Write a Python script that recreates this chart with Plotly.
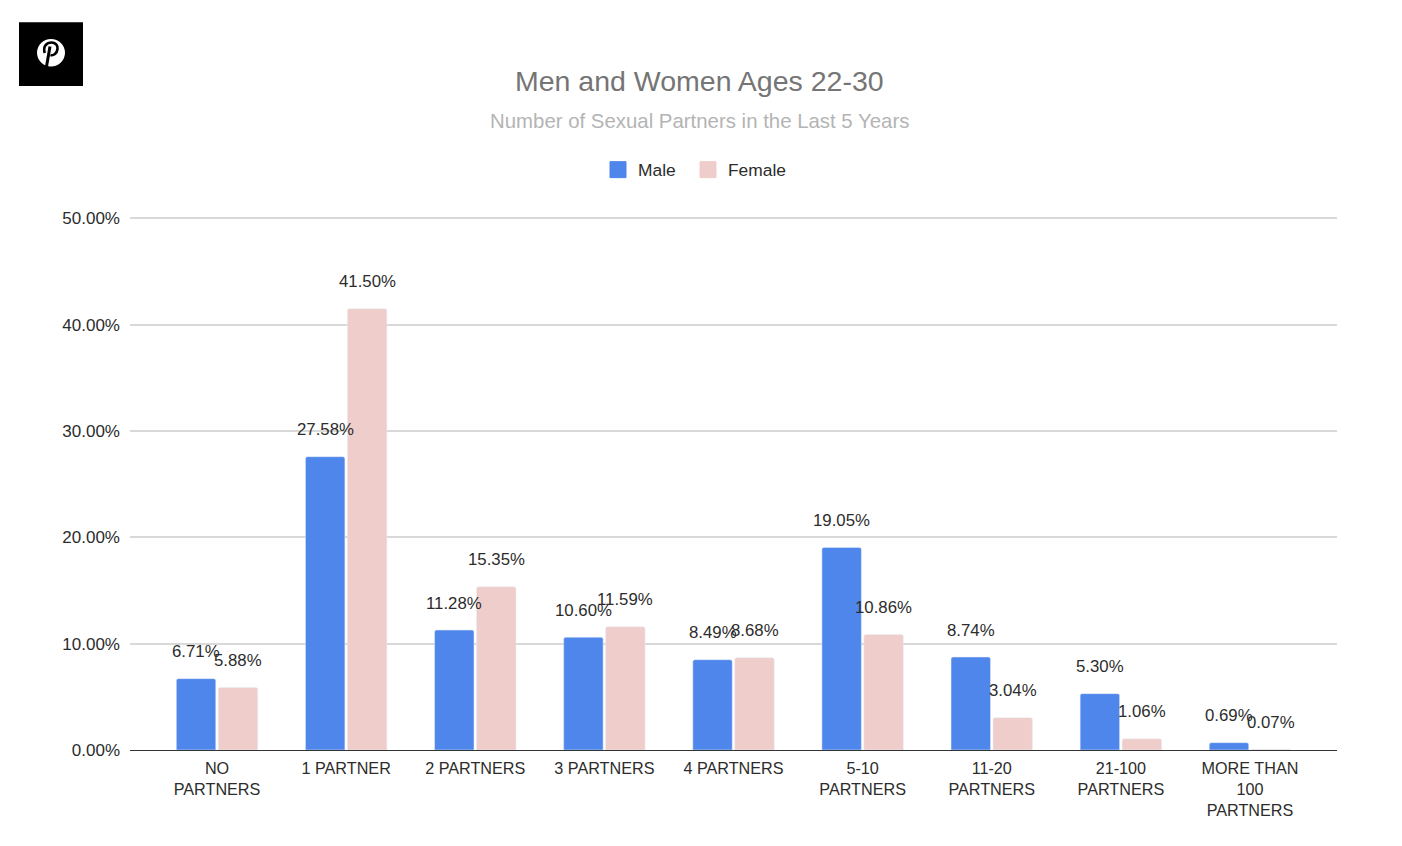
import plotly.graph_objects as go

categories = ["NO<br>PARTNERS", "1 PARTNER", "2 PARTNERS", "3 PARTNERS", "4 PARTNERS",
              "5-10<br>PARTNERS", "11-20<br>PARTNERS", "21-100<br>PARTNERS", "MORE THAN<br>100<br>PARTNERS"]
male = [6.71, 27.58, 11.28, 10.60, 8.49, 19.05, 8.74, 5.30, 0.69]
female = [5.88, 41.50, 15.35, 11.59, 8.68, 10.86, 3.04, 1.06, 0.07]
y_ticks = [0, 10, 20, 30, 40, 50]
series_names = ["Male", "Female"]
MALE_C, FEMALE_C = "#4f86ec", "#efcdcb"
FONT = "Liberation Sans"
TXT = "#2c2c2c"
W, H = 1386, 830
OFF = 8
Y_TOP = 50.4
PX_PER_UNIT = (750.5 - 218) / 50
L, R, T, B = 130 - OFF, 1337 - OFF, 218 - OFF - (Y_TOP - 50) * PX_PER_UNIT, 750.5 - OFF

def px(x): return (x - OFF - L) / (R - L)
def py(y): return 1 - (y - OFF - T) / (B - T)

fig = go.Figure()
xs = list(range(len(categories)))
fig.add_bar(x=xs, y=male, name=series_names[0], showlegend=False, marker=dict(color=MALE_C, cornerradius=2))
fig.add_bar(x=xs, y=female, name=series_names[1], showlegend=False, marker=dict(color=FEMALE_C, cornerradius=2))
# legend keys: square swatches as in the reference, one legend per key so each sits at its own place
for n, c, lg in zip(series_names, (MALE_C, FEMALE_C), ("legend", "legend2")):
    fig.add_scatter(x=[None], y=[None], mode="markers", name=n, legend=lg,
                    marker=dict(symbol="square", size=16, color=c, line=dict(color=c, width=1)))

ann = []
for i, (m, f) in enumerate(zip(male, female)):
    for v, dx in ((m, -21), (f, 21)):
        ann.append(dict(x=i, y=v, xref="x", yref="y", text=f"{v:.2f}%", showarrow=False,
                        xshift=dx, yshift=27, yanchor="middle", xanchor="center",
                        font=dict(family=FONT, size=16.8, color=TXT)))
ann.append(dict(x=px(699.5), y=py(81), xref="paper", yref="paper", text="Men and Women Ages 22-30",
                showarrow=False, font=dict(family=FONT, size=28.5, color="#757575"), yanchor="middle"))
ann.append(dict(x=px(699), y=py(121), xref="paper", yref="paper", text="Number of Sexual Partners in the Last 5 Years",
                showarrow=False, font=dict(family=FONT, size=20.4, color="#b4b4b4"), yanchor="middle"))

def pt(x, y): return f"{px(x):.5f},{py(y):.5f}"
bowl = ("M" + pt(44.8, 52.5) + "C" + pt(42.5, 45.5) + " " + pt(47, 42) + " " + pt(51.5, 42)
        + "C" + pt(55.5, 42) + " " + pt(58, 45) + " " + pt(57.5, 48.5)
        + "C" + pt(57, 53) + " " + pt(53.5, 55.5) + " " + pt(50.5, 54.5))
stem = "M" + pt(50, 46) + "L" + pt(46.5, 66)
shapes = [
    dict(type="rect", xref="paper", yref="paper", x0=px(19), x1=px(83), y0=py(21.6), y1=py(85.6),
         fillcolor="#000000", line_width=0, layer="above"),
    dict(type="circle", xref="paper", yref="paper", x0=px(37), x1=px(65), y0=py(38.5), y1=py(66),
         fillcolor="#ffffff", line_width=0, layer="above"),
    dict(type="path", xref="paper", yref="paper", path=bowl, line=dict(color="#000000", width=2.6), layer="above"),
    dict(type="path", xref="paper", yref="paper", path=stem, line=dict(color="#000000", width=3), layer="above"),
]

legend_font = dict(family=FONT, size=17.4, color=TXT)
fig.update_layout(
    width=W, height=H, autosize=False,
    paper_bgcolor="#ffffff", plot_bgcolor="#ffffff",
    margin=dict(l=L, r=W - R, t=T, b=H - B, pad=0),
    barmode="group", bargap=0.35, bargroupgap=0.06,
    font=dict(family=FONT, color=TXT),
    showlegend=True,
    legend=dict(orientation="h", x=px(598), xanchor="left", y=py(169.5), yanchor="middle",
                itemsizing="trace", font=legend_font),
    legend2=dict(orientation="h", x=px(688), xanchor="left", y=py(169.5), yanchor="middle",
                 itemsizing="trace", font=legend_font),
    annotations=ann, shapes=shapes,
    hovermode=False,
)
fig.update_xaxes(range=[-0.674, 8.674], tickmode="array", tickvals=xs, ticktext=categories,
                 tickfont=dict(family=FONT, size=16.2, color=TXT), ticks="", showgrid=False,
                 zeroline=False, showline=False, tickangle=0, ticklabelstandoff=7)
fig.update_yaxes(range=[0, Y_TOP], tickmode="array", tickvals=y_ticks, ticktext=[f"{v:.2f}%" for v in y_ticks],
                 tickfont=dict(family=FONT, size=17, color=TXT), ticks="", gridcolor="#d9d9d9",
                 gridwidth=1.5, zeroline=True, zerolinecolor="#333333", zerolinewidth=1.3, showline=False,
                 ticklabelstandoff=9)
fig.write_html("out.html", config=dict(displayModeBar=False))
